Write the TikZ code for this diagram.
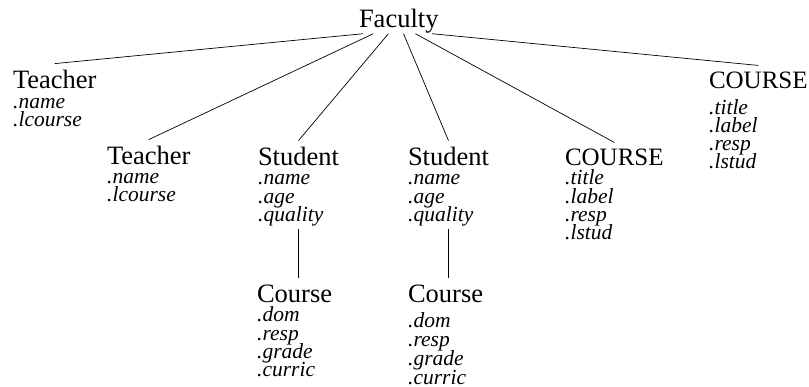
\documentclass[tikz,border=0pt]{standalone}
\usepackage{fontspec}
\setmainfont{Liberation Serif}
\usetikzlibrary{calc}

\tikzset{
  classname/.style={font=\fontsize{26.5}{30}\selectfont, inner sep=0pt,
    outer xsep=0pt, outer ysep=7pt, anchor=base west},
  upname/.style={classname, font=\fontsize{25}{30}\selectfont},
  attrname/.style={font=\fontsize{21.5}{25}\selectfont\itshape,
    inner sep=0pt, anchor=base west},
  link/.style={line width=0.7pt}
}

\begin{document}
\begin{tikzpicture}[x=1pt,y=1pt]
    \useasboundingbox (0,0) rectangle (809,-387);
    \node[classname,outer ysep=0pt] (fac) at (359,-28) {Faculty};
    % first level
    \node[classname] (teachA) at (13,-89) {Teacher};
    \foreach \a [count=\i] in {name,lcourse}
      \node[attrname] (teachA\i) at (13,{-109-18*(\i-1)}) {.\a};
    \node[classname] (teachB) at (107,-165) {Teacher};
    \foreach \a [count=\i] in {name,lcourse}
      \node[attrname] (teachB\i) at (107,{-184-18*(\i-1)}) {.\a};
    \node[classname] (studA) at (258,-166) {Student};
    \foreach \a [count=\i] in {name,age,quality}
      \node[attrname] (studA\i) at (258,{-185-18.5*(\i-1)}) {.\a};
    \node[classname] (studB) at (408,-166) {Student};
    \foreach \a [count=\i] in {name,age,quality}
      \node[attrname] (studB\i) at (408,{-185-18.5*(\i-1)}) {.\a};
    \node[upname] (crsA) at (565,-166) {COURSE};
    \foreach \a [count=\i] in {title,label,resp,lstud}
      \node[attrname] (crsA\i) at (565,{-185-18.3*(\i-1)}) {.\a};
    \node[upname] (crsB) at (709,-89) {COURSE};
    \foreach \a [count=\i] in {title,label,resp,lstud}
      \node[attrname] (crsB\i) at (709,{-115-17.7*(\i-1)}) {.\a};
    % second level
    \node[classname] (courA) at (257,-303) {Course};
    \foreach \a [count=\i] in {dom,resp,grade,curric}
      \node[attrname] (courA\i) at (257,{-322-18.3*(\i-1)}) {.\a};
    \node[classname] (courB) at (408,-303) {Course};
    \foreach \a [count=\i] in {dom,resp,grade,curric}
      \node[attrname] (courB\i) at (408,{-328-18.7*(\i-1)}) {.\a};
    % links
    \foreach \t/\f in {teachA/0.05,teachB/0.18,studA/0.37,studB/0.56,crsA/0.71,crsB/0.92}
      \draw[link] ($(fac.south west)!\f!(fac.south east)$) -- (\t.north);
    \draw[link] ([yshift=-2pt]studA3.south -| studA.north) -- (courA.north -| studA.north);
    \draw[link] ([yshift=-2pt]studB3.south -| studB.north) -- (courB.north -| studB.north);
\end{tikzpicture}
\end{document}
